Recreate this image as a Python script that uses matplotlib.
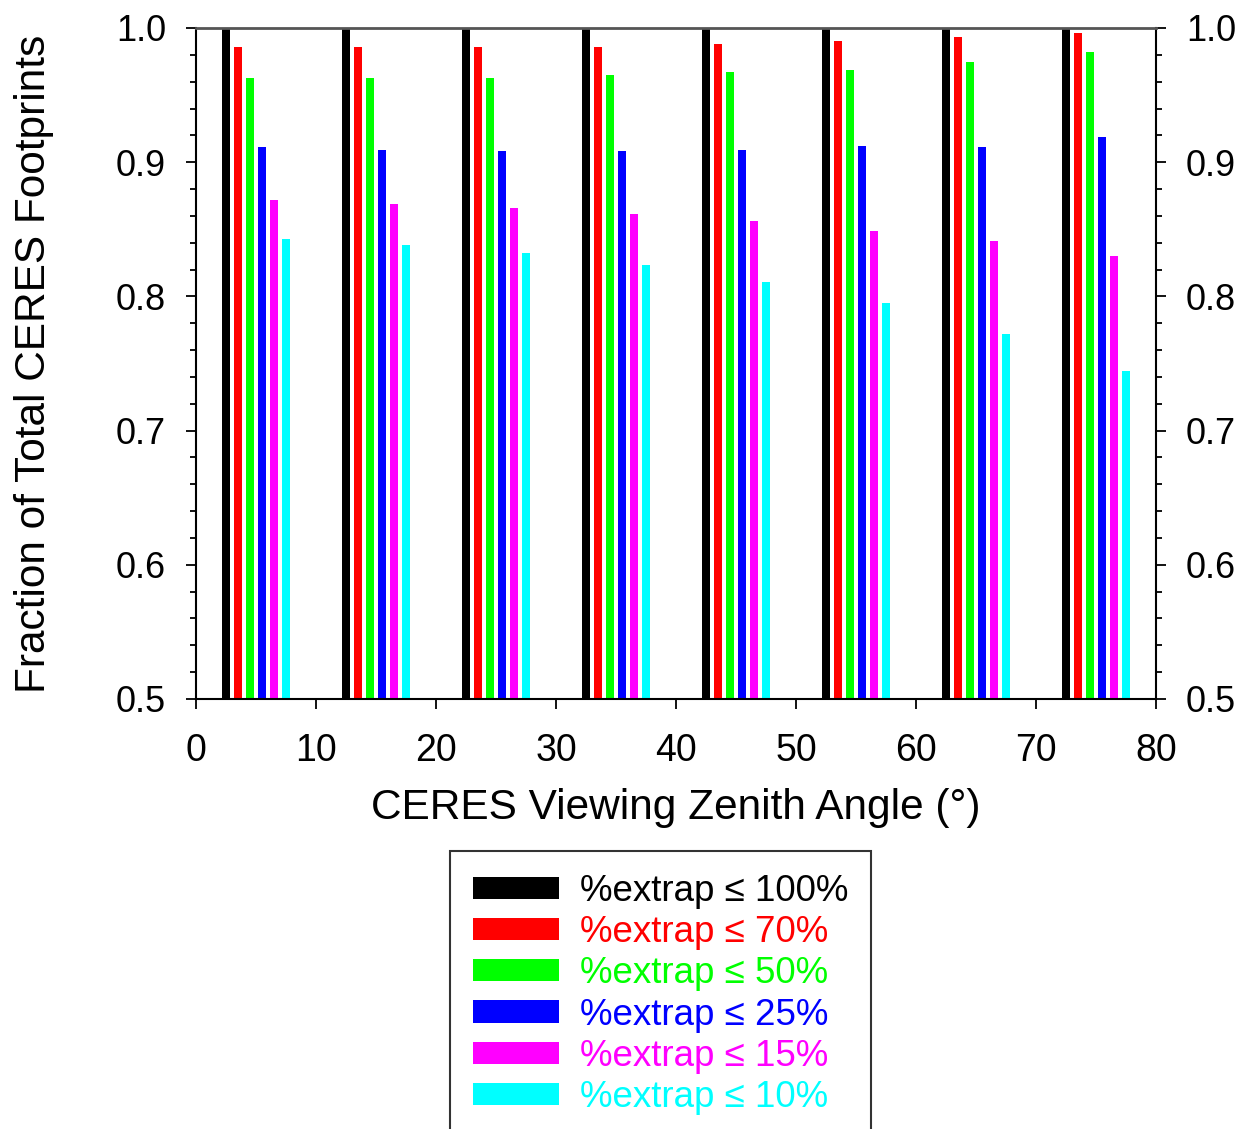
import numpy as np
import matplotlib.pyplot as plt
from matplotlib.ticker import MultipleLocator

plt.rcParams['font.family'] = ['Liberation Sans', 'DejaVu Sans']

# data
group_start = [0, 10, 20, 30, 40, 50, 60, 70]
labels = ['%extrap \u2264 100%', '%extrap \u2264 70%', '%extrap \u2264 50%',
          '%extrap \u2264 25%', '%extrap \u2264 15%', '%extrap \u2264 10%']
colors = ['#000000', '#ff0000', '#00ff00', '#0000ff', '#ff00ff', '#00ffff']

frac_100 = [1.000, 1.000, 1.000, 1.000, 1.000, 1.000, 1.000, 1.000]
frac_70 = [0.986, 0.986, 0.986, 0.986, 0.988, 0.990, 0.993, 0.996]
frac_50 = [0.963, 0.963, 0.963, 0.965, 0.967, 0.969, 0.975, 0.982]
frac_25 = [0.911, 0.909, 0.908, 0.908, 0.909, 0.912, 0.911, 0.919]
frac_15 = [0.872, 0.869, 0.866, 0.861, 0.856, 0.849, 0.841, 0.830]
frac_10 = [0.843, 0.838, 0.832, 0.823, 0.811, 0.795, 0.772, 0.744]
series = [frac_100, frac_70, frac_50, frac_25, frac_15, frac_10]

fig = plt.figure(figsize=(12.49, 11.29), dpi=100)
ax = fig.add_axes([0.157, 0.381, 0.7685, 0.5942])

base = 0.5
for i, (vals, c, lab) in enumerate(zip(series, colors, labels)):
    x = np.array(group_start) + 2.5 + i
    h = np.array(vals) - base
    ax.bar(x, h, bottom=base, width=0.7, color=c, label=lab, zorder=2)

ax.set_xlim(0, 80)
ax.set_ylim(0.5, 1.0)
ax.xaxis.set_major_locator(MultipleLocator(10))
ax.yaxis.set_major_locator(MultipleLocator(0.1))
ax.yaxis.set_minor_locator(MultipleLocator(0.02))
ax.yaxis.set_major_formatter(plt.FormatStrFormatter('%.1f'))

ax.tick_params(axis='both', which='major', direction='out', length=7.5,
               width=1.3)
ax.tick_params(axis='x', which='major', labelsize=27, pad=17)
ax.tick_params(axis='y', which='major', labelsize=26, pad=14)
ax.tick_params(axis='y', which='minor', direction='out', length=4.5, width=1.3)
ax.tick_params(axis='y', which='both', right=True, labelright=True)

for s in ['left', 'bottom', 'right']:
    ax.spines[s].set_linewidth(1.5)
ax.spines['top'].set_linewidth(2)
ax.spines['top'].set_color('#555555')

ax.set_xlabel('CERES Viewing Zenith Angle (\u00b0)', fontsize=30.5, labelpad=14)
ax.set_ylabel('Fraction of Total CERES Footprints', fontsize=30.5, labelpad=45)

leg = fig.legend(loc='upper center', bbox_to_anchor=(660.5 / 1249, 1 - 851 / 1129),
                 fontsize=26.5, handlelength=2.35, handleheight=0.55,
                 handletextpad=0.55, labelspacing=0.17, borderpad=0.62,
                 borderaxespad=0, fancybox=False, edgecolor='#333333',
                 framealpha=1)
leg.get_frame().set_linewidth(1.5)
for t, c in zip(leg.get_texts(), colors):
    t.set_color(c)

fig.savefig('out.png', dpi=100)
